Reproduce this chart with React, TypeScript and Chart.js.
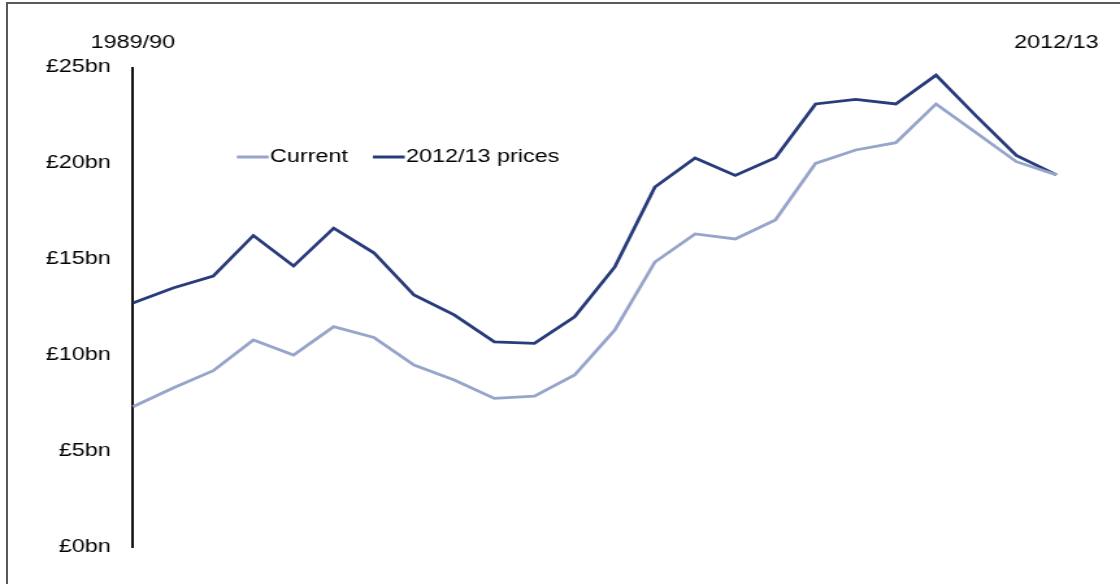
import React, { useEffect, useRef } from "react";
import { Chart, registerables } from "chart.js";

Chart.register(...registerables);

// ---- Data ----
const years = [
  "1989/90", "1990/91", "1991/92", "1992/93", "1993/94", "1994/95",
  "1995/96", "1996/97", "1997/98", "1998/99", "1999/00", "2000/01",
  "2001/02", "2002/03", "2003/04", "2004/05", "2005/06", "2006/07",
  "2007/08", "2008/09", "2009/10", "2010/11", "2011/12", "2012/13",
];
const currentPrices = [
  7.31, 8.29, 9.19, 10.79, 10.01, 11.49, 10.93, 9.49, 8.71, 7.75, 7.87, 8.97,
  11.31, 14.86, 16.32, 16.06, 17.05, 20.0, 20.7, 21.08, 23.1, 21.6, 20.09, 19.4,
];
const realPrices = [
  12.72, 13.5, 14.13, 16.24, 14.65, 16.62, 15.34, 13.14, 12.1, 10.7, 10.62, 12.0,
  14.6, 18.77, 20.28, 19.37, 20.3, 23.1, 23.34, 23.1, 24.6, 22.47, 20.42, 19.4,
];
const seriesNames = ["Current", "2012/13 prices"];
const yMin = 0;
const yMax = 25;
const yStep = 5;

// ---- Layout (the original image is horizontally stretched) ----
const STRETCH = 1.3;
const FULL_W = 1120;
const FULL_H = 584;
const INNER_W = Math.round(FULL_W / STRETCH);

const COLOR_CURRENT = "#97a5ca";
const COLOR_REAL = "#283b7a";
const TEXT = "#000000";
const FONT = "'Liberation Sans', Arial, sans-serif";

const inlineLegend = {
  id: "inlineLegend",
  afterDraw(chart: any) {
    const ctx = chart.ctx;
    const starts = [182.3, 287];
    const y = 157;
    ctx.save();
    ctx.font = `18px ${FONT}`;
    ctx.textBaseline = "middle";
    ctx.textAlign = "left";
    chart.data.datasets.forEach((ds: any, i: number) => {
      const x0 = starts[i];
      ctx.strokeStyle = ds.borderColor;
      ctx.lineWidth = 3;
      ctx.beginPath();
      ctx.moveTo(x0, y);
      ctx.lineTo(x0 + 24.5, y);
      ctx.stroke();
      ctx.fillStyle = TEXT;
      ctx.fillText(ds.label, x0 + 25.5, y);
    });
    ctx.restore();
  },
};

export default function App() {
  const canvasRef = useRef<HTMLCanvasElement | null>(null);

  useEffect(() => {
    if (!canvasRef.current) return;
    const chart = new Chart(canvasRef.current, {
      type: "line",
      data: {
        labels: years,
        datasets: [
          {
            label: seriesNames[0],
            data: currentPrices,
            borderColor: COLOR_CURRENT,
            backgroundColor: COLOR_CURRENT,
            borderWidth: 2.8,
            pointRadius: 0,
            tension: 0,
            borderJoinStyle: "miter",
          },
          {
            label: seriesNames[1],
            data: realPrices,
            borderColor: COLOR_REAL,
            backgroundColor: COLOR_REAL,
            borderWidth: 2.8,
            pointRadius: 0,
            tension: 0,
            borderJoinStyle: "miter",
          },
        ],
      },
      options: {
        responsive: false,
        animation: false,
        layout: { padding: { left: 0, right: INNER_W - 813.1, top: 0, bottom: FULL_H - 547 } },
        plugins: {
          legend: { display: false },
          tooltip: { enabled: false },
        },
        scales: {
          x: {
            position: "top",
            grid: { display: false, drawTicks: false },
            border: { display: false },
            ticks: {
              autoSkip: false,
              maxRotation: 0,
              minRotation: 0,
              padding: 14,
              color: TEXT,
              font: { family: FONT, size: 18 },
              callback: (_v: any, i: number) =>
                i === 0 || i === years.length - 1 ? years[i] : "",
            },
            afterFit: (s: any) => {
              s.height = 67.5;
            },
          },
          y: {
            min: yMin,
            max: yMax,
            grid: { display: false, drawTicks: false },
            border: { display: true, color: "#111", width: 2 },
            ticks: {
              stepSize: yStep,
              padding: 17,
              color: TEXT,
              font: { family: FONT, size: 18 },
              callback: (v: any) => `£${v}bn`,
            },
            afterFit: (s: any) => {
              s.width = 102.3;
            },
          },
        },
      },
      plugins: [inlineLegend],
    });
    return () => chart.destroy();
  }, []);

  return (
    <div
      style={{
        position: "absolute",
        left: 0,
        top: 0,
        width: FULL_W,
        height: FULL_H,
        background: "#fff",
        overflow: "hidden",
      }}
    >
      <div
        style={{
          position: "absolute",
          left: 6,
          top: 2,
          width: FULL_W,
          height: FULL_H,
          borderTop: "2px solid #5a5a5a",
          borderLeft: "2px solid #5a5a5a",
        }}
      />
      <div
        style={{
          position: "absolute",
          left: 0,
          top: 0,
          width: INNER_W,
          height: FULL_H,
          transform: `scaleX(${FULL_W / INNER_W})`,
          transformOrigin: "0 0",
        }}
      >
        <canvas
          ref={canvasRef}
          width={INNER_W}
          height={FULL_H}
          style={{ width: INNER_W, height: FULL_H, display: "block" }}
        />
      </div>
    </div>
  );
}
